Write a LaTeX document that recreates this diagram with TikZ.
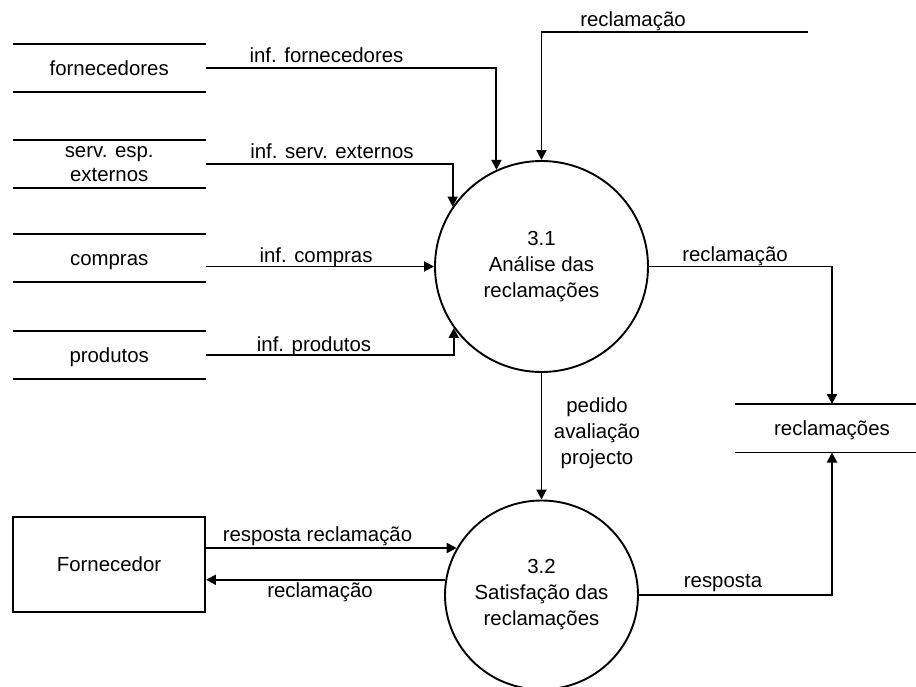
\documentclass[tikz,border=0pt]{standalone}
\usepackage{fontspec}
\setmainfont{Liberation Sans}
\usetikzlibrary{arrows.meta,shapes.geometric}
\begin{document}
\begin{tikzpicture}[x=1pt,y=-1pt,
  every node/.style={font=\fontsize{20.4}{26}\selectfont, inner sep=0pt},
  thick line/.style={line width=1.9pt},
  flow/.style={thick line, -{Triangle[length=10pt,width=10pt]}},
  storebox/.style={minimum width=193pt, minimum height=48pt},
  datastore/.style={storebox, text height=18.5pt, text depth=4.3pt},
  process/.style={ellipse, draw, thick line, align=center},
  entity/.style={rectangle, draw, thick line, minimum width=192pt,
    minimum height=95pt, text height=18.5pt, text depth=4.3pt},
  lbl/.style={anchor=base}
]
\useasboundingbox (0,0) rectangle (916,687);

% data stores
\node[datastore] (fornec)   at (109.2,68.2)  {fornecedores};
\node[storebox, align=center, font=\fontsize{20.4}{24.7}\selectfont] (serv)
  at (109.2,164.2) {serv. esp.\\externos};
\node[datastore] (compras)  at (109.2,258.2) {compras};
\node[datastore] (produtos) at (109.2,355)   {produtos};
\node[datastore, minimum width=194pt] (rstore) at (832,428.3) {reclamações};
\foreach \s in {fornec,serv,compras,produtos,rstore}
  \draw[thick line] (\s.north west) -- (\s.north east)
                    (\s.south west) -- (\s.south east);

% processes
\node[process, minimum width=213pt, minimum height=211pt] (p31) at (541.5,266.5)
  {3.1\\Análise das\\reclamações};
\node[process, minimum width=193pt, minimum height=189pt] (p32) at (541.5,595)
  {3.2\\Satisfação das\\reclamações};

% external entity
\node[entity] (forn) at (109,564.5) {Fornecedor};

% flows into 3.1
\draw[flow] (fornec.east) -| (p31.115);
\draw[flow] (serv.east) -| (p31.146);
\draw[flow] (compras.east |- p31.west) -- (p31.west);
\draw[flow] (produtos.east) -| (p31.215);
\coordinate (src) at (808,32);
\draw[flow] (src) -| (p31.north);

% flows out of 3.1 and 3.2
\draw[flow] (p31.east) -| (rstore.north);
\draw[flow] (p31.south) -- (p32.north);
\draw[flow] (p32.east) -| (rstore.south);
\draw[flow] (forn.east |- p32.151) -- (p32.151);
\draw[flow] (p32.171) -- (p32.171 -| forn.east);

% flow labels
\node[lbl] (lf)  at (326.5,62.3) {inf. fornecedores};
\node[lbl] (ls)  at (332,158.3)  {inf. serv. externos};
\node[lbl] (lc)  at (316,263)    {inf. compras};
\node[lbl] (lp)  at (314,351)    {inf. produtos};
\node[lbl] (lt)  at (633,27)     {reclamação};
\node[lbl] (lr)  at (735,261.7)  {reclamação};
\node[align=center] (lpd) at (597,433) {pedido\\avaliação\\projecto};
\node[lbl] (lrr) at (317.5,541)  {resposta reclamação};
\node[lbl] (lrc) at (320,597)    {reclamação};
\node[lbl] (lres) at (723,587)   {resposta};
\end{tikzpicture}
\end{document}
